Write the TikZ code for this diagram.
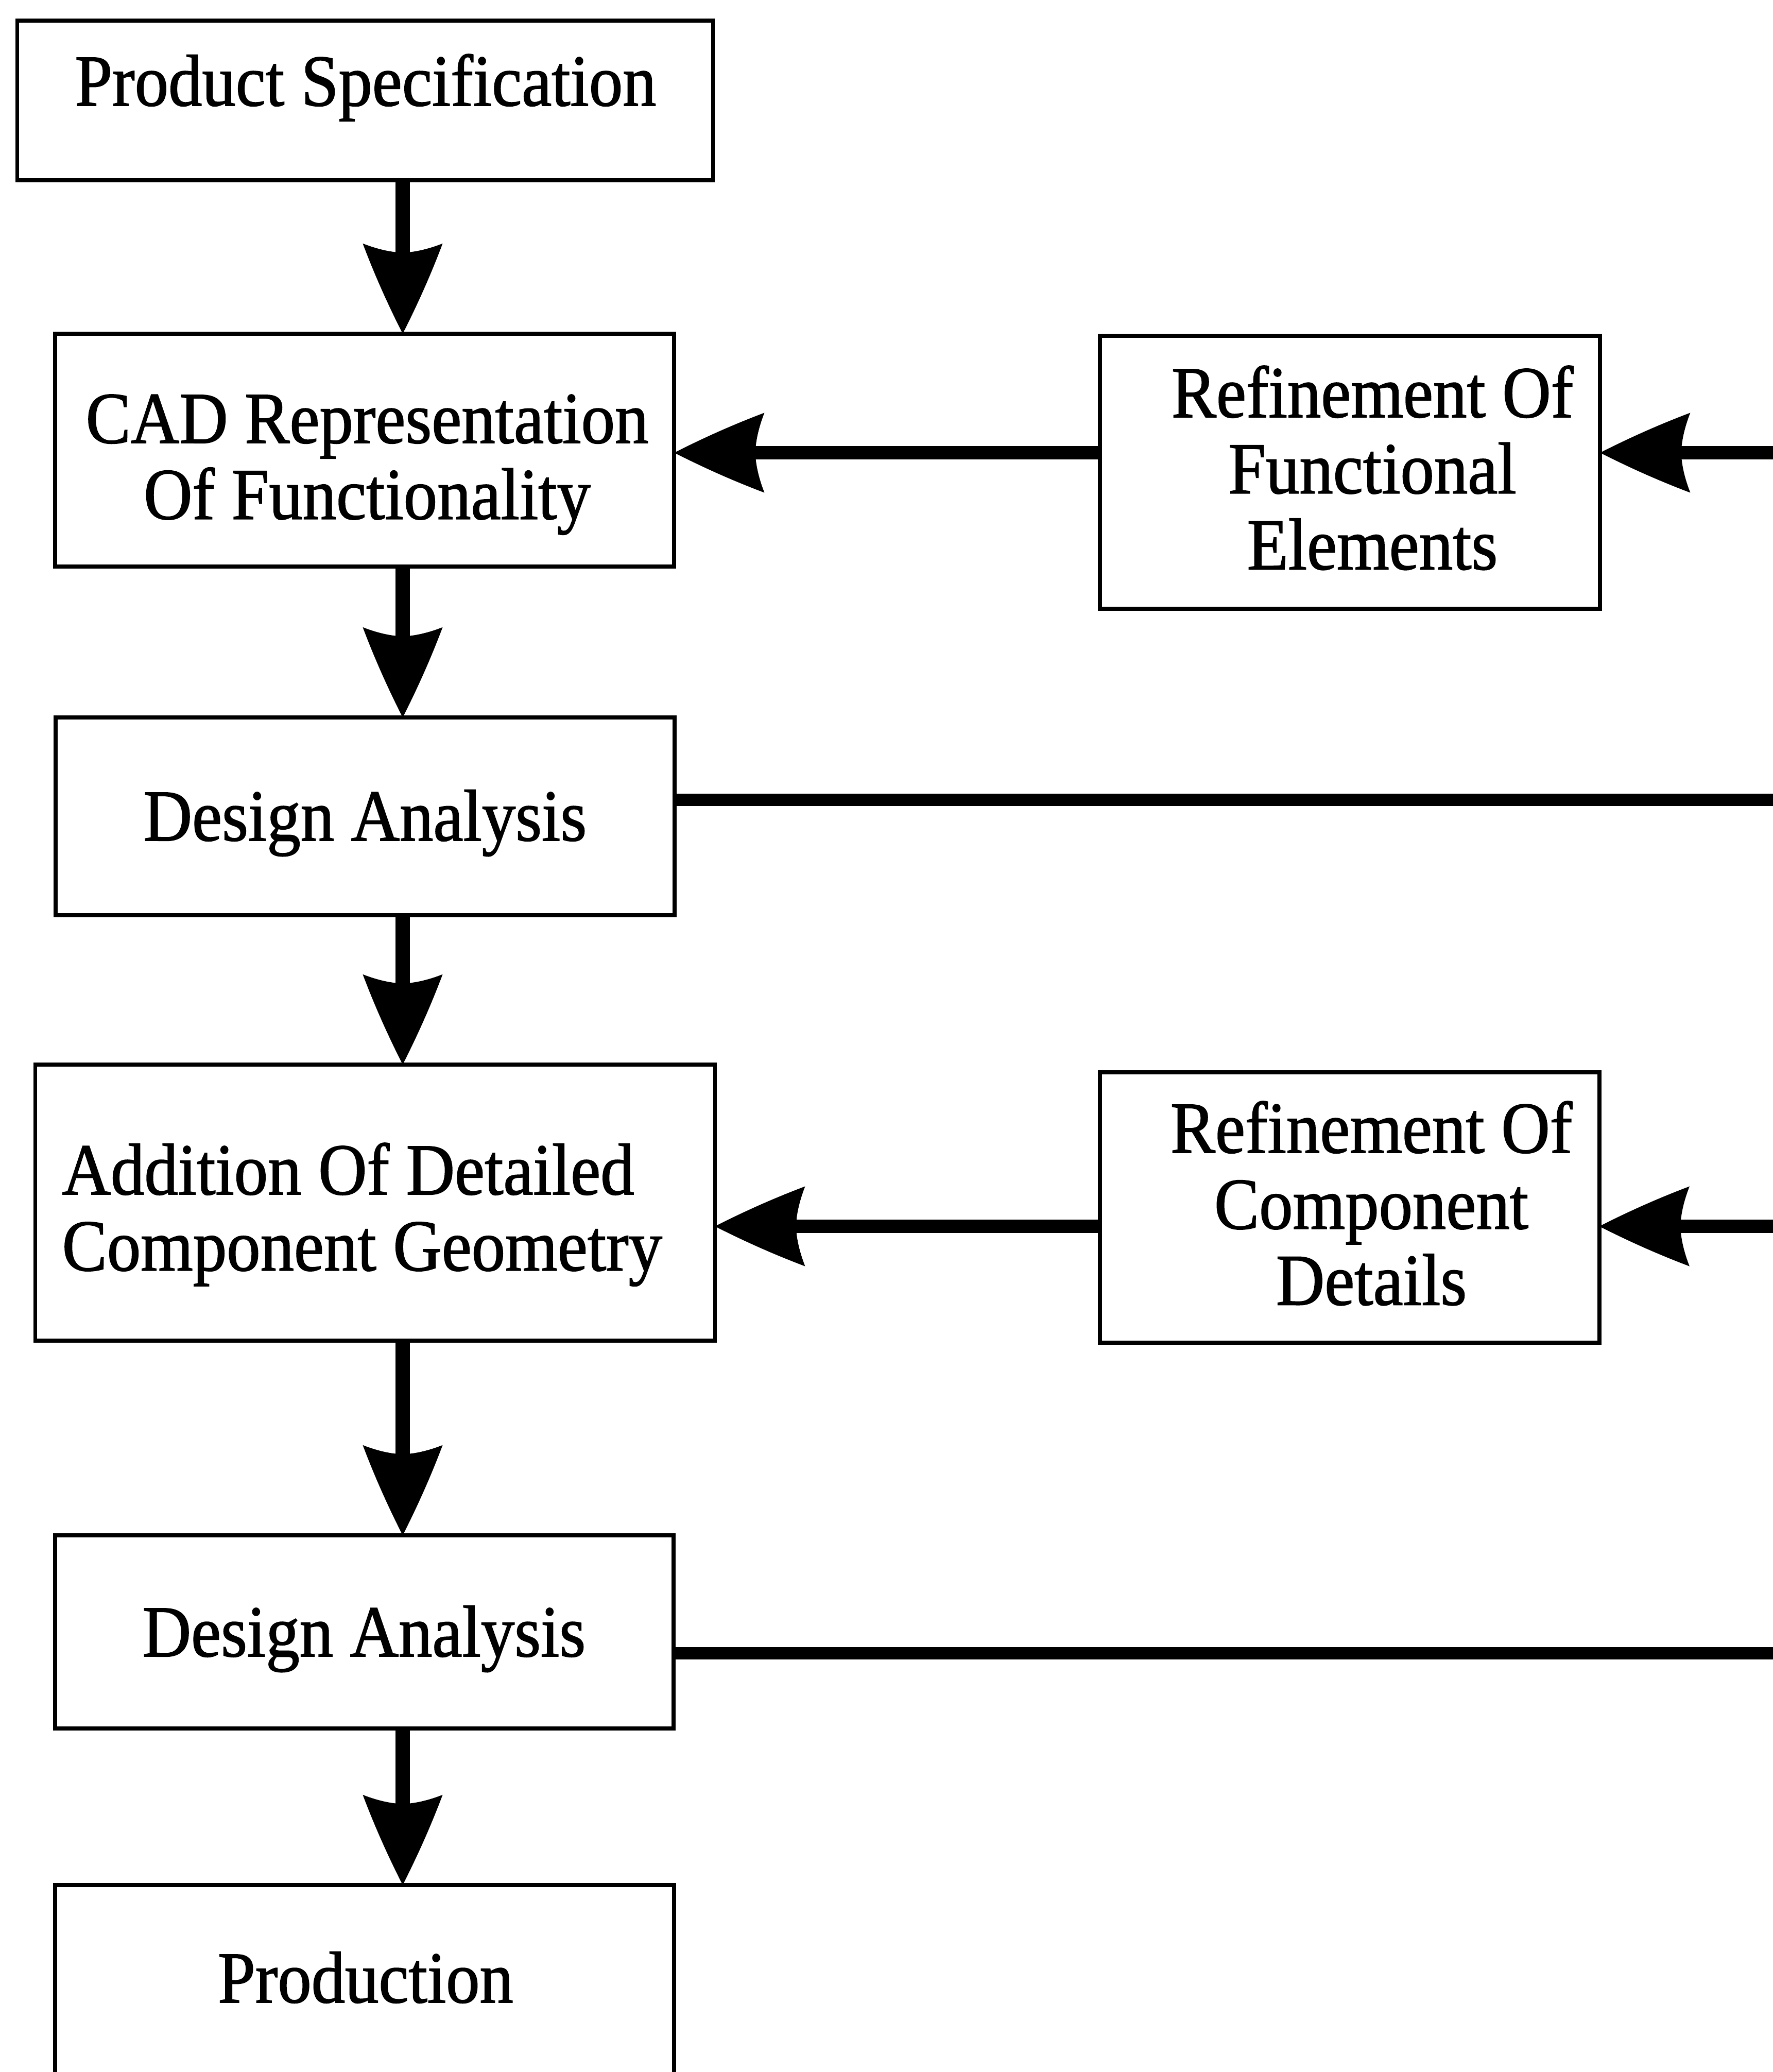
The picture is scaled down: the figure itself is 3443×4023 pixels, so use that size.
\documentclass[tikz,border=0pt]{standalone}
\usepackage{fontspec}
\setmainfont{Liberation Serif}[FakeStretch=0.92,FakeBold=1.2]
\usetikzlibrary{arrows.meta}

% Solid arrow head with slightly bulging sides and a hollowed back
\pgfdeclarearrow{
  name = Barb,
  parameters = {\the\pgfarrowlength,\the\pgfarrowwidth},
  setup code = {
    \pgfarrowssettipend{0pt}
    \pgfarrowssetbackend{-\pgfarrowlength}
    \pgfarrowssetlineend{-0.8\pgfarrowlength}
    \pgfarrowshullpoint{0pt}{0pt}
    \pgfarrowsupperhullpoint{-\pgfarrowlength}{0.5\pgfarrowwidth}
    \pgfarrowssavethe\pgfarrowlength
    \pgfarrowssavethe\pgfarrowwidth
  },
  drawing code = {
    \pgfpathmoveto{\pgfqpoint{0pt}{0pt}}
    \pgfpathcurveto{\pgfpoint{-0.33\pgfarrowlength}{0.19\pgfarrowwidth}}{\pgfpoint{-0.67\pgfarrowlength}{0.36\pgfarrowwidth}}{\pgfpoint{-\pgfarrowlength}{0.5\pgfarrowwidth}}
    \pgfpathcurveto{\pgfpoint{-0.93\pgfarrowlength}{0.3\pgfarrowwidth}}{\pgfpoint{-0.9\pgfarrowlength}{0.12\pgfarrowwidth}}{\pgfpoint{-0.9\pgfarrowlength}{0pt}}
    \pgfpathcurveto{\pgfpoint{-0.9\pgfarrowlength}{-0.12\pgfarrowwidth}}{\pgfpoint{-0.93\pgfarrowlength}{-0.3\pgfarrowwidth}}{\pgfpoint{-\pgfarrowlength}{-0.5\pgfarrowwidth}}
    \pgfpathcurveto{\pgfpoint{-0.67\pgfarrowlength}{-0.36\pgfarrowwidth}}{\pgfpoint{-0.33\pgfarrowlength}{-0.19\pgfarrowwidth}}{\pgfqpoint{0pt}{0pt}}
    \pgfpathclose
    \pgfusepathqfill
  },
  defaults = {length = 1.75cm, width = 1.55cm}
}

\tikzset{
  box/.style={draw, line width=2.2pt, inner sep=0pt, outer sep=0pt},
  txt/.style={inner sep=0pt, anchor=base, font=\fontsize{40.4pt}{42pt}\selectfont},
  vflow/.style={line width=7.7pt, -{Barb}},
  hflow/.style={line width=7.4pt, -{Barb}},
  feed/.style={line width=7pt},
}

\begin{document}
\begin{tikzpicture}[x=0.01cm, y=-0.01cm]
\path[use as bounding box] (0,0) rectangle (3443,4023);
\clip (0,0) rectangle (3443,4023);
\fill[white] (0,0) rectangle (3443,4023);

% main column of process boxes
\node[box, minimum width=13.50cm, minimum height=3.10cm] (ps)   at (709,195)    {};
\node[box, minimum width=12.02cm, minimum height=4.52cm] (cad)  at (708,874)    {};
\node[box, minimum width=12.02cm, minimum height=3.84cm] (da1)  at (709,1585)   {};
\node[box, minimum width=13.19cm, minimum height=5.36cm] (add)  at (728.5,2335) {};
\node[box, minimum width=12.01cm, minimum height=3.75cm] (da2)  at (707.5,3168.5) {};
\node[box, minimum width=12.02cm, minimum height=4.80cm] (prod) at (708,3900)   {};

% refinement boxes on the right
\node[box, minimum width=9.71cm, minimum height=5.30cm] (ref1) at (2621.5,917)  {};
\node[box, minimum width=9.69cm, minimum height=5.25cm] (ref2) at (2621,2344.5) {};

% box labels
\node[txt] (psT)   at (710,205)  {Product Specification};
\node[txt] (cadT)  at (713,860)  {\begin{tabular}[t]{@{}c@{}}CAD Representation\\Of Functionality\end{tabular}};
\node[txt] (da1T)  at (709,1632) {Design Analysis};
\node[txt, anchor=base west] (addT) at (120,2319) {\begin{tabular}[t]{@{}l@{}}Addition Of Detailed\\Component Geometry\end{tabular}};
\node[txt] (da2T)  at (707,3216) {Design Analysis};
\node[txt] (prodT) at (710,3888) {Production};
\node[txt] (ref1T) at (2665,810)  {\begin{tabular}[t]{@{}c@{}}Refinement Of\\Functional\\Elements\end{tabular}};
\node[txt] (ref2T) at (2663,2238) {\begin{tabular}[t]{@{}c@{}}Refinement Of\\Component\\Details\end{tabular}};

% helper coordinates for connector rows and the column of down arrows
\coordinate (col)  at (782,0);
\coordinate (row1) at (0,879);
\coordinate (row2) at (0,2381);
\coordinate (in1)  at (3500,879);
\coordinate (in2)  at (3500,2381);
\coordinate (out1) at (3500,1553);
\coordinate (out2) at (3500,3210);

% downward flow
\draw[vflow] (col |- ps.south)  -- (col |- cad.north);
\draw[vflow] (col |- cad.south) -- (col |- da1.north);
\draw[vflow] (col |- da1.south) -- (col |- add.north);
\draw[vflow] (col |- add.south) -- (col |- da2.north);
\draw[vflow] (col |- da2.south) -- (col |- prod.north);

% refinement feedback
\draw[hflow] (ref1.west |- row1) -- (cad.east |- row1);
\draw[hflow] (in1) -- (ref1.east |- in1);
\draw[hflow] (ref2.west |- row2) -- (add.east |- row2);
\draw[hflow] (in2) -- (ref2.east |- in2);

% analysis results leaving to the right
\draw[feed] (da1.east |- out1) -- (out1);
\draw[feed] (da2.east |- out2) -- (out2);
\end{tikzpicture}
\end{document}
